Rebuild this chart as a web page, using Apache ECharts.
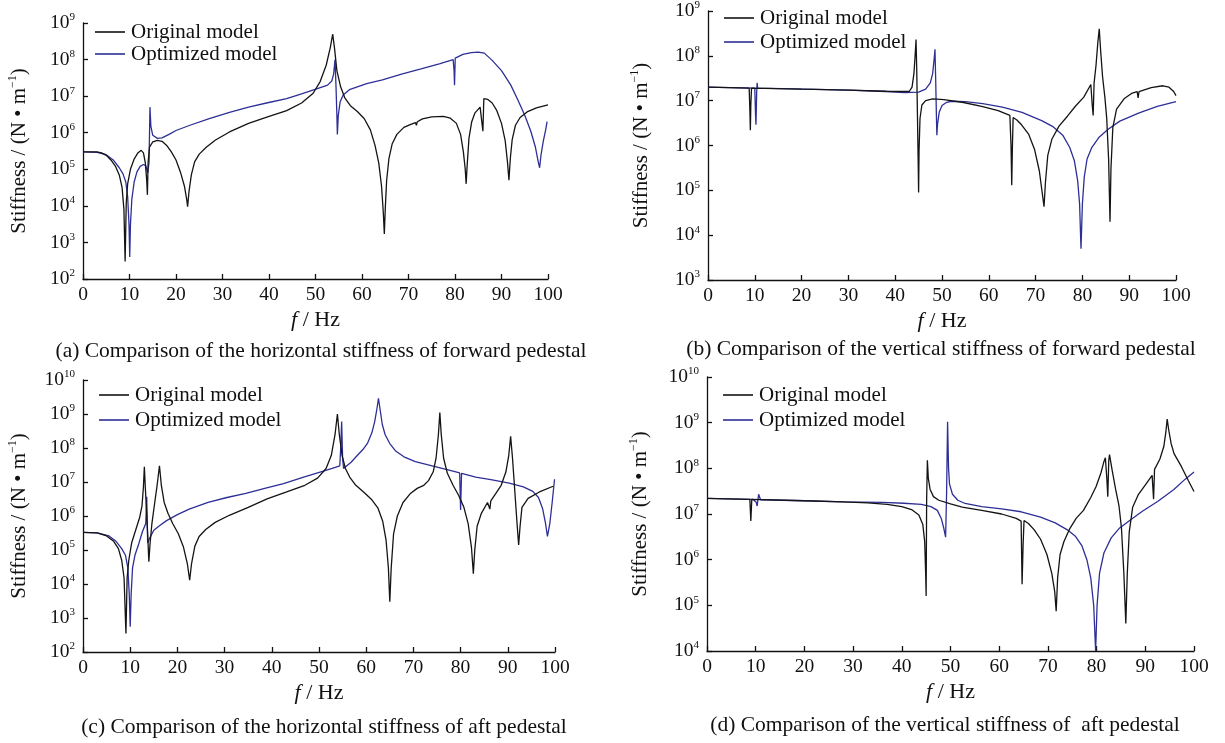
<!DOCTYPE html>
<html>
<head>
<meta charset="utf-8">
<script src="https://cdn.jsdelivr.net/npm/echarts@6/dist/echarts.min.js"></script>
<style>
html,body{margin:0;padding:0;background:#fff;}
#c{width:1225px;height:743px;}
</style>
</head>
<body>
<div id="c"></div>
<script>
// ---------- DATA ([f (Hz), stiffness (N/m)]) ----------
const seriesNames = ['Original model', 'Optimized model'];
const xTicks = [0, 10, 20, 30, 40, 50, 60, 70, 80, 90, 100];
const captions = [
  '(a) Comparison of the horizontal stiffness of forward pedestal',
  '(b) Comparison of the vertical stiffness of forward pedestal',
  '(c) Comparison of the horizontal stiffness of aft pedestal',
  '(d) Comparison of the vertical stiffness of  aft pedestal'
];
const yRanges = [[1e2, 1e9], [1e3, 1e9], [1e2, 1e10], [1e4, 1e10]];

const aOrig = [[0,3e5],[3,3e5],[4,2.8e5],[5,2.4e5],[6,1.8e5],[7,1.2e5],[7.8,7e4],[8.4,3.2e4],[8.8,8e3],[9.06,3e2],[9.3,1.2e4],[9.6,4e4],[10.2,1e5],[11,1.9e5],[11.8,2.8e5],[12.5,3.3e5],[13,2.8e5],[13.4,1.5e5],[13.7,5e4],[13.85,2e4],[14,1.5e5],[14.3,4e5],[15,5.6e5],[16,6.2e5],[17,5.8e5],[18,4.5e5],[19,3e5],[20,1.8e5],[21,8e4],[21.8,3.5e4],[22.3,1.5e4],[22.5,9.5e3],[22.8,2.5e4],[23.3,7e4],[24,1.6e5],[25,2.6e5],[26.5,4e5],[28.5,6.3e5],[31.5,1.05e6],[35.6,1.8e6],[39.7,2.7e6],[43.8,4e6],[47,6.5e6],[49.5,1.2e7],[51,2.5e7],[52.3,7e7],[53.2,2.2e8],[53.7,5e8],[54.1,2e8],[54.6,5e7],[55.4,1.8e7],[56.3,9e6],[57.5,5.5e6],[59,3.8e6],[60.5,2.4e6],[61.8,1.2e6],[62.8,4.5e5],[63.6,1.5e5],[64.2,3.5e4],[64.6,6e3],[64.8,1.7e3],[65,8e3],[65.3,5e4],[65.8,2e5],[66.5,5e5],[67.5,9e5],[69,1.4e6],[70.5,1.7e6],[71.5,1.9e6],[71.7,1.6e6],[71.9,2e6],[73,2.4e6],[75,2.7e6],[77.5,2.8e6],[79,2.5e6],[80.3,1.8e6],[81.2,9e5],[81.8,3e5],[82.2,1e5],[82.4,4e4],[82.6,1.2e5],[83,7e5],[83.6,2e6],[84.3,3.5e6],[85.4,5e6],[85.8,5.5e6],[86,1.1e6],[86.2,8.5e6],[87,8.2e6],[88,6.5e6],[89,4e6],[90,1.8e6],[90.8,6e5],[91.3,1.5e5],[91.6,5e4],[91.9,2e5],[92.3,6.5e5],[93,1.6e6],[94,2.6e6],[95.5,3.7e6],[97.5,4.8e6],[100,5.8e6]];
const aOpt = [[0,3e5],[3,2.9e5],[5,2.5e5],[6.5,1.8e5],[7.8,1.1e5],[8.6,7.5e4],[9.2,4.5e4],[9.6,1.8e4],[9.9,3e3],[10.05,4e2],[10.2,3e3],[10.5,1.5e4],[11,4.5e4],[11.6,8.5e4],[12.3,1.2e5],[13,1.35e5],[13.5,1.25e5],[13.9,8e4],[14.2,1.5e5],[14.4,5e6],[14.6,1.5e6],[15,8.5e5],[16,7e5],[17,7.2e5],[18.5,9e5],[20,1.15e6],[23,1.6e6],[27,2.4e6],[31.5,3.6e6],[35.6,5e6],[39.7,6.6e6],[43.8,8.5e6],[47,1.15e7],[50.4,1.6e7],[52.6,2e7],[53.5,2.6e7],[53.9,4e7],[54.2,1e8],[54.4,2e7],[54.6,3e6],[54.7,9e5],[54.9,3e6],[55.3,7e6],[56,1.1e7],[57.3,1.5e7],[59,1.8e7],[61,2.2e7],[64.4,2.8e7],[68.5,4e7],[72.7,5.6e7],[76.8,7.8e7],[79.6,1e8],[79.8,5e7],[79.9,2e7],[80.05,1.1e8],[81.7,1.38e8],[83.5,1.55e8],[85,1.6e8],[86.3,1.5e8],[88,9.5e7],[90,5e7],[92,2e7],[93.5,8e6],[95,3e6],[96.3,1.1e6],[97.3,4e5],[97.9,1.6e5],[98.2,1.1e5],[98.5,2.5e5],[99,6e5],[99.5,1.2e6],[99.8,2e6]];

const bOrig = [[0,2e7],[8.8,1.9e7],[8.95,6e6],[9.05,2.2e6],[9.15,8e6],[9.3,1.9e7],[20,1.8e7],[30,1.72e7],[38,1.62e7],[43,1.6e7],[43.6,2e7],[44,4e7],[44.3,1.2e8],[44.45,2.3e8],[44.6,5e7],[44.75,5e6],[44.9,5e5],[45,9e4],[45.1,8e5],[45.3,4e6],[45.7,8e6],[46.5,1e7],[48,1.1e7],[50.4,1.05e7],[54.6,9.1e6],[58.7,7.4e6],[62,6e6],[64.5,4.7e6],[64.75,1e6],[64.9,1.3e5],[65.05,1e6],[65.2,4.2e6],[66,3.7e6],[67,2.9e6],[68.5,1.8e6],[69.8,8e5],[70.8,2.7e5],[71.4,9e4],[71.8,4.3e4],[72.1,1.5e5],[72.6,6e5],[73.5,1.4e6],[75,2.7e6],[76.8,4.5e6],[78.5,7.5e6],[80.3,1.2e7],[81.8,2.3e7],[82.1,8e6],[82.3,4.7e6],[82.5,2.5e7],[82.9,6e7],[83.3,2e8],[83.6,4e8],[83.9,1.3e8],[84.3,3.5e7],[84.8,1.2e7],[85.2,4e6],[85.6,5e5],[85.9,2e4],[86.1,3e5],[86.5,2.5e6],[87.3,6.5e6],[88.9,1.1e7],[90.5,1.45e7],[91.7,1.6e7],[91.9,1.15e7],[92.1,1.6e7],[94.7,1.95e7],[97.2,2.15e7],[98.5,2e7],[99.5,1.6e7],[100,1.3e7]];
const bOpt = [[0,2e7],[10,1.9e7],[10.15,5e6],[10.25,2.9e6],[10.4,1.5e7],[10.5,2.5e7],[10.6,1.9e7],[21,1.8e7],[30,1.72e7],[38,1.6e7],[42,1.52e7],[45,1.55e7],[46.5,1.8e7],[47.5,2.5e7],[48,4e7],[48.3,8e7],[48.5,1.4e8],[48.65,3e7],[48.8,5e6],[48.9,1.7e6],[49.05,3e6],[49.4,5.5e6],[50,7.8e6],[51,9.2e6],[52,9.7e6],[55,9.5e6],[58.7,8.6e6],[62.9,7.2e6],[67.1,5.5e6],[71.3,3.6e6],[73.8,2.6e6],[75.8,1.7e6],[77.3,9e5],[78.3,4.5e5],[79,1.6e5],[79.4,5e4],[79.7,5e3],[80,5e4],[80.4,2e5],[81,5e5],[82,9e5],[83.5,1.5e6],[85.5,2.3e6],[88,3.5e6],[92,5.3e6],[96,7.5e6],[100,9.5e6]];

const cOrig = [[0,3.3e5],[3,3.2e5],[5,2.6e5],[6.5,1.8e5],[7.5,1.1e5],[8.2,5e4],[8.7,1.5e4],[9.1,3.5e2],[9.35,1.5e4],[9.7,5e4],[10.3,1.6e5],[11.2,4e5],[12,9e5],[12.5,2e6],[12.8,7e6],[13,2.8e7],[13.2,7e6],[13.45,1.5e6],[13.7,3e5],[13.95,4.5e4],[14.2,1.5e5],[14.6,6e5],[15.2,2.5e6],[15.7,8e6],[16.2,3e7],[16.6,8e6],[17.2,2.5e6],[18,1.2e6],[19,6e5],[20.2,3e5],[21.3,1.2e5],[22.1,4e4],[22.6,1.3e4],[23,4e4],[23.7,1.3e5],[24.6,2.5e5],[26,4e5],[28,6.5e5],[31,1.05e6],[35,1.8e6],[39,3.2e6],[43,5e6],[47,8e6],[49.7,1.3e7],[51.5,2.5e7],[52.6,6e7],[53.4,2.5e8],[53.9,1e9],[54.3,2.5e8],[54.9,6e7],[55.6,2.5e7],[56.5,1.4e7],[57.8,8e6],[59.5,5e6],[61.2,3e6],[62.5,1.7e6],[63.5,7e5],[64.2,2e5],[64.7,3e4],[65,3e3],[65.3,3e4],[65.8,3e5],[66.6,1e6],[67.8,2.5e6],[69.3,4.5e6],[70.8,6.5e6],[71.6,7.3e6],[71.9,6.5e6],[72.2,8e6],[73.2,1.1e7],[74.2,2e7],[74.8,5e7],[75.3,2.5e8],[75.6,1.1e9],[75.9,2.5e8],[76.4,5e7],[77.2,1.8e7],[78.4,8e6],[79.6,4e6],[80.7,1.8e6],[81.6,6e5],[82.3,1.2e5],[82.7,2e4],[83,1e5],[83.5,5e5],[84.4,1.2e6],[85.7,2.5e6],[86,2.8e6],[86.2,1.6e6],[86.4,2.8e6],[87.4,4.5e6],[88.6,8e6],[89.6,2e7],[90.2,6e7],[90.6,2.2e8],[91,5e7],[91.5,5e6],[92,5e5],[92.3,1.4e5],[92.6,5e5],[93,1.8e6],[94.3,3.3e6],[96.7,5.1e6],[99.6,7.5e6]];
const cOpt = [[0,3.3e5],[3,3.2e5],[5.5,2.6e5],[7,1.8e5],[8.2,1.1e5],[9,7e4],[9.5,3e4],[9.8,5e3],[10,5.5e2],[10.2,5e3],[10.5,3e4],[11,7e4],[11.8,1.5e5],[12.6,3.5e5],[13.3,6e5],[13.5,3.7e6],[13.7,1.6e5],[14.1,2.2e5],[15,3.8e5],[16.2,5.2e5],[17.7,7.3e5],[20,1.1e6],[22.5,1.6e6],[26.5,2.5e6],[30.5,3.5e6],[34.5,4.6e6],[38.5,6.5e6],[42.5,9e6],[46.4,1.35e7],[50.4,2e7],[52.8,2.5e7],[54.4,3e7],[54.6,1e8],[54.8,6e8],[55,5e7],[55.2,2.5e7],[55.6,2.7e7],[56.8,3.8e7],[58,5.8e7],[59.3,9e7],[60.3,1.4e8],[61.2,2.8e8],[61.8,6e8],[62.3,1.5e9],[62.6,2.9e9],[62.9,1.5e9],[63.4,5e8],[64,2.5e8],[65,1.35e8],[66.3,8e7],[68,5.5e7],[70.4,4e7],[74.4,2.9e7],[78.4,2.1e7],[79.8,1.85e7],[80,1.5e6],[80.2,1.8e7],[83.2,1.4e7],[86.4,1.18e7],[90.3,9.3e6],[93.3,7.2e6],[95.3,5.3e6],[96.5,3.5e6],[97.4,1.6e6],[98,6e5],[98.4,2.5e5],[98.9,6e5],[99.4,2.5e6],[99.9,1.2e7]];

const dOrig = [[0,2.2e7],[4,2.15e7],[8.8,2.1e7],[9,7e6],[9.2,2.1e7],[20,1.95e7],[28,1.85e7],[33,1.75e7],[37,1.62e7],[40,1.45e7],[42,1.25e7],[43.5,9.5e6],[44.3,6e6],[44.7,2.5e6],[44.9,5e5],[45,1.6e5],[45.1,2e7],[45.25,1.5e8],[45.45,6e7],[45.8,3.5e7],[46.5,2.4e7],[47.6,2e7],[50,1.66e7],[52.4,1.42e7],[56.4,1.2e7],[60.5,1e7],[63.5,8e6],[64.5,7e6],[64.7,2.9e5],[64.9,2e6],[65.1,7.2e6],[66,6.2e6],[67.2,4.5e6],[68.5,2.8e6],[69.8,1.3e6],[70.8,5e5],[71.4,2e5],[71.7,7.4e4],[72,4e5],[72.5,1.3e6],[73.3,2.5e6],[74.5,4.8e6],[75.8,8e6],[77.3,1.2e7],[78.8,2.3e7],[79.9,4e7],[80.9,8e7],[81.5,1.4e8],[81.8,1.7e8],[82.1,6e7],[82.3,2.4e7],[82.5,1.5e8],[82.65,2e8],[83.2,9e7],[83.9,3.5e7],[84.6,1.5e7],[85.1,5e6],[85.6,5e5],[86,4e4],[86.3,5e5],[86.7,4e6],[87.4,1.4e7],[88.6,2.7e7],[90.2,4.6e7],[91.4,7e7],[91.7,2.1e7],[91.9,9.5e7],[93,1.6e8],[93.8,3e8],[94.2,6e8],[94.5,1.2e9],[94.8,7e8],[95.3,3.5e8],[95.9,2.1e8],[97.4,1.1e8],[98.8,5.5e7],[100,3.1e7]];
const dOpt = [[0,2.2e7],[9.4,2.1e7],[10.1,1.8e7],[10.3,1.5e7],[10.6,2.7e7],[11,2.05e7],[20,1.95e7],[28,1.85e7],[36,1.8e7],[40.4,1.72e7],[44,1.62e7],[46,1.45e7],[47.3,1.2e7],[48.1,8e6],[48.6,5e6],[49,3.1e6],[49.2,3e7],[49.4,1.05e9],[49.6,1e8],[49.8,4.5e7],[50.4,2.7e7],[51.5,2e7],[53,1.7e7],[56.4,1.45e7],[60.5,1.3e7],[64.5,1.12e7],[68.5,8.5e6],[71.5,6.4e6],[74,4.5e6],[75.7,3.2e6],[77,2e6],[78,1e6],[78.8,4e5],[79.4,1e5],[79.8,1e4],[80.1,1e5],[80.6,5e5],[81.5,1.4e6],[83,3e6],[84.6,4.8e6],[87,7.5e6],[89.4,1.15e7],[92.6,1.9e7],[95.8,3.4e7],[98.2,5.8e7],[100,8.3e7]];

const panels = [[aOrig, aOpt], [bOrig, bOpt], [cOrig, cOpt], [dOrig, dOpt]];

// ---------- LAYOUT / STYLE ----------
const FF = 'Liberation Serif';
const colors = ['#141414', '#2e2f96'];
const grids = [
  {left: 83, top: 23, width: 465, height: 256},
  {left: 708, top: 9, width: 468, height: 271},
  {left: 83, top: 380, width: 472, height: 272},
  {left: 707, top: 377, width: 487, height: 274}
];
const legendPos = [
  {left: 95, top: 21, itemGap: 0},
  {left: 724, top: 7, itemGap: 2},
  {left: 99, top: 384, itemGap: 3},
  {left: 723, top: 384, itemGap: 3}
];
const yNameGap = [52, 55, 52, 55];
const captionPos = [[321, 351], [941, 349], [324, 727], [945, 725]];

const chart = echarts.init(document.getElementById('c'), null, {renderer: 'canvas'});

const axisLine = {show: true, lineStyle: {color: '#111', width: 1.3}};
const axisTick = {show: true, inside: true, length: 5, lineStyle: {color: '#111', width: 1.3}};

const xAxes = grids.map((g, i) => ({
  type: 'value', gridIndex: i, min: xTicks[0], max: xTicks[xTicks.length - 1], interval: 10,
  axisLine, axisTick, splitLine: {show: false},
  axisLabel: {color: '#111', fontFamily: FF, fontSize: 19.5, margin: 6},
  name: '{i|f}{n| / Hz}', nameLocation: 'middle', nameGap: 30,
  nameTextStyle: {rich: {
    i: {fontFamily: FF, fontSize: 22, fontStyle: 'italic', color: '#111'},
    n: {fontFamily: FF, fontSize: 22, color: '#111'}
  }}
}));

const yAxes = grids.map((g, i) => ({
  type: 'log', logBase: 10, gridIndex: i, min: yRanges[i][0], max: yRanges[i][1],
  splitNumber: Math.round(Math.log10(yRanges[i][1] / yRanges[i][0])),
  axisLine, axisTick, splitLine: {show: false}, minorTick: {show: false},
  axisLabel: {
    margin: 8,
    formatter: v => '{b|10}{s|' + Math.round(Math.log10(v)) + '}',
    rich: {
      b: {fontFamily: FF, fontSize: 19.5, color: '#111', lineHeight: 22},
      s: {fontFamily: FF, fontSize: 11, color: '#111', verticalAlign: 'top', lineHeight: 12}
    }
  },
  name: '{n|Stiffness / (N • m}{s|−1}{n|)}', nameLocation: 'middle', nameRotate: 90, nameGap: yNameGap[i],
  nameTextStyle: {rich: {
    n: {fontFamily: FF, fontSize: 21, color: '#111', lineHeight: 24},
    s: {fontFamily: FF, fontSize: 12, color: '#111', verticalAlign: 'top', lineHeight: 13}
  }}
}));

const series = [];
panels.forEach((p, i) => {
  p.forEach((data, k) => {
    series.push({
      type: 'line', name: seriesNames[k], xAxisIndex: i, yAxisIndex: i,
      data: data, symbol: 'none', showSymbol: false, smooth: false, animation: false,
      lineStyle: {color: colors[k], width: 1.3}, itemStyle: {color: colors[k]},
      clip: true, z: k === 0 ? 3 : 2
    });
  });
});

const legends = legendPos.map(lp => ({
  orient: 'vertical', left: lp.left, top: lp.top, itemGap: lp.itemGap, padding: 0,
  icon: 'rect', itemWidth: 30, itemHeight: 1.6, selectedMode: false,
  data: seriesNames,
  textStyle: {fontFamily: FF, fontSize: 21, color: '#111', lineHeight: 22, padding: [0, 0, 0, 1]}
}));

const graphics = captions.map((t, i) => ({
  type: 'text', x: captionPos[i][0], y: captionPos[i][1],
  style: {text: t, font: '21.5px "Liberation Serif"', fill: '#111', align: 'center', verticalAlign: 'middle'}
}));

chart.setOption({
  backgroundColor: '#fff',
  animation: false,
  grid: grids.map(g => Object.assign({containLabel: false}, g)),
  xAxis: xAxes, yAxis: yAxes,
  legend: legends,
  series: series,
  graphic: graphics
});
</script>
</body>
</html>
